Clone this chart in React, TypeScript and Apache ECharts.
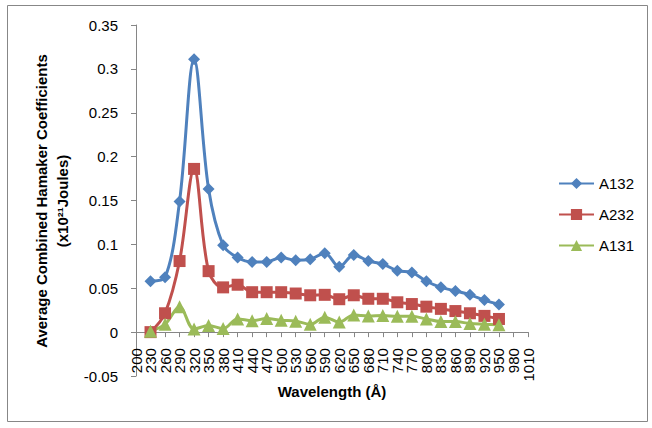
import React, { useEffect, useRef } from "react";
import * as echarts from "echarts";

const categories = ["200","230","260","290","320","350","380","410","440","470","500","530","560","590","620","650","680","710","740","770","800","830","860","890","920","950","980","1010"];
const a132 = [null, 0.058, 0.0625, 0.149, 0.311, 0.163, 0.099, 0.085, 0.080, 0.080, 0.085, 0.082, 0.083, 0.090, 0.0745, 0.088, 0.081, 0.0775, 0.070, 0.068, 0.058, 0.051, 0.047, 0.0425, 0.0365, 0.0315, null, null];
const a232 = [null, 0.0, 0.0215, 0.081, 0.186, 0.0695, 0.051, 0.054, 0.0455, 0.0455, 0.0455, 0.044, 0.042, 0.0425, 0.0375, 0.042, 0.038, 0.038, 0.034, 0.032, 0.029, 0.0265, 0.024, 0.0215, 0.0185, 0.015, null, null];
const a131 = [null, 0.001, 0.009, 0.029, 0.0035, 0.0075, 0.004, 0.015, 0.013, 0.0155, 0.0135, 0.0125, 0.009, 0.017, 0.0115, 0.0195, 0.0185, 0.019, 0.018, 0.018, 0.015, 0.012, 0.012, 0.0098, 0.009, 0.0083, null, null];
const seriesNames = ["A132", "A232", "A131"];
const yTitle1 = "Average Combined Hamaker Coefficients";
const yTitle2 = "(x10\u00B2\u00B9Joules)";
const xTitle = "Wavelength (\u00C5)";

const FONT = "'Liberation Sans', Arial, sans-serif";
const Y_MIN = -0.05;
const Y_MAX = 0.35;
const GRID_TOP = 25;
const GRID_BOTTOM = 52;
const CHART_H = 428;

export default function App() {
  const ref = useRef<HTMLDivElement>(null);
  useEffect(() => {
    if (!ref.current) return;
    const chart = echarts.init(ref.current, undefined, { renderer: "svg" });
    const gridH = CHART_H - GRID_TOP - GRID_BOTTOM;
    const zeroOffset = -gridH * ((0 - Y_MIN) / (Y_MAX - Y_MIN));
    const mk = (name: string, data: any[], color: string, symbol: string, size: number) => ({
      name,
      type: "line",
      data,
      smooth: 0.35,
      symbol,
      symbolSize: size,
      showSymbol: true,
      lineStyle: { color, width: 3 },
      itemStyle: { color },
    });
    chart.setOption({
      animation: false,
      backgroundColor: "#ffffff",
      textStyle: { fontFamily: FONT },
      grid: { left: 136, right: 124, top: GRID_TOP, bottom: GRID_BOTTOM, containLabel: false },
      legend: {
        orient: "vertical",
        left: 553,
        top: 171,
        itemWidth: 35,
        itemHeight: 14,
        itemGap: 16,
        data: seriesNames,
        textStyle: { fontFamily: FONT, fontSize: 15, color: "#000", lineHeight: 15 },
      },
      xAxis: {
        type: "category",
        data: categories,
        boundaryGap: false,
        position: "bottom",
        offset: zeroOffset,
        axisLine: { show: true, onZero: false, lineStyle: { color: "#868686", width: 1 } },
        axisTick: { show: true, length: 5, interval: 0, lineStyle: { color: "#868686" } },
        axisLabel: { interval: 0, rotate: 90, margin: 16, fontSize: 15, color: "#000", fontFamily: FONT },
        splitLine: { show: false },
      },
      yAxis: {
        type: "value",
        min: Y_MIN,
        max: Y_MAX,
        interval: 0.05,
        axisLine: { show: true, lineStyle: { color: "#868686", width: 1 } },
        axisTick: { show: true, length: 5, lineStyle: { color: "#868686" } },
        axisLabel: {
          margin: 18,
          fontSize: 15,
          color: "#000",
          fontFamily: FONT,
          formatter: (v: number) => String(parseFloat(v.toFixed(2))),
        },
        splitLine: { show: false },
      },
      graphic: [
        {
          type: "rect",
          shape: { x: 7.5, y: 5.5, width: 640, height: 416 },
          style: { fill: "none", stroke: "#878787", lineWidth: 1 },
          silent: true,
        },
        {
          type: "text",
          x: 41,
          y: 201,
          rotation: Math.PI / 2,
          style: { text: yTitle1, font: `bold 15px ${FONT}`, fill: "#000", align: "center", verticalAlign: "middle" },
        },
        {
          type: "text",
          x: 62,
          y: 201,
          rotation: Math.PI / 2,
          style: { text: yTitle2, font: `bold 15px ${FONT}`, fill: "#000", align: "center", verticalAlign: "middle" },
        },
        {
          type: "text",
          x: 332,
          y: 391,
          style: { text: xTitle, font: `bold 15px ${FONT}`, fill: "#000", align: "center", verticalAlign: "middle" },
        },
      ],
      series: [
        mk(seriesNames[0], a132, "#4F81BD", "diamond", 12),
        mk(seriesNames[1], a232, "#C0504D", "rect", 12),
        mk(seriesNames[2], a131, "#9BBB59", "triangle", 13),
      ],
    });
    return () => chart.dispose();
  }, []);
  return <div ref={ref} style={{ position: "fixed", left: 0, top: 0, width: 652, height: 428 }} />;
}
